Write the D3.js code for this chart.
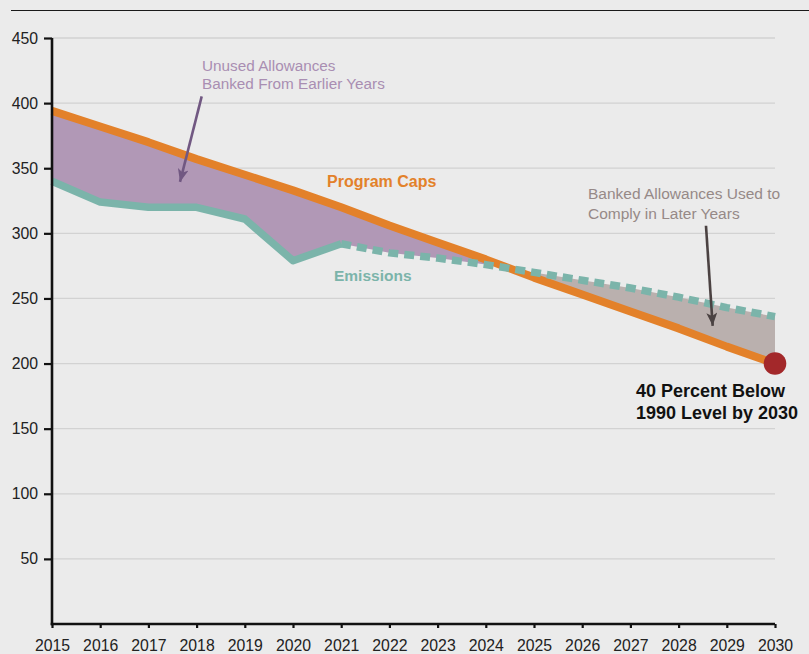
<!DOCTYPE html>
<html><head><meta charset="utf-8">
<script src="https://cdn.jsdelivr.net/npm/d3@7"></script>
<style>
html,body{margin:0;padding:0;background:#ebebeb;}
svg{display:block;}
text{font-family:"Liberation Sans",Arial,sans-serif;}
</style></head>
<body>
<svg id="chart" width="809" height="654"></svg>
<script>
const years = [2015,2016,2017,2018,2019,2020,2021,2022,2023,2024,2025,2026,2027,2028,2029,2030];
const programCaps = [394,382,370,357,345,333,320,306,293,280,266,253,240,227,213,200];
const emissions = [340,324,320,320,311,279,292,285,281,276,270,264,258,251,243,236];
const projectedFrom = 2021; // emissions dashed from here on
const yTicks = [50,100,150,200,250,300,350,400,450];
const xTicks = years;

const W=809,H=654;
const x = d3.scaleLinear().domain([2015,2030]).range([52,775]);
const y = d3.scaleLinear().domain([0,450]).range([624,38]);

const svg = d3.select("#chart");
svg.append("rect").attr("width",W).attr("height",H).attr("fill","#ebebeb");

// top rule
svg.append("line").attr("x1",11).attr("x2",W).attr("y1",10.5).attr("y2",10.5)
  .attr("stroke","#1a1a1a").attr("stroke-width",1.2);

// grid
svg.append("g").selectAll("line").data(yTicks).join("line")
  .attr("x1",x(2015)).attr("x2",x(2030))
  .attr("y1",d=>y(d)).attr("y2",d=>y(d))
  .attr("stroke","#d2d2d2").attr("stroke-width",1.3);

const data = years.map((yr,i)=>({yr,cap:programCaps[i],em:emissions[i]}));
const defs = svg.append("defs");

defs.append("clipPath").attr("id","aboveEm").append("path")
  .attr("d", d3.area().x(d=>x(d.yr)).y0(d=>y(d.em)).y1(0)(data));
defs.append("clipPath").attr("id","aboveCap").append("path")
  .attr("d", d3.area().x(d=>x(d.yr)).y0(d=>y(d.cap)).y1(0)(data));

svg.append("path")
  .attr("d", d3.area().x(d=>x(d.yr)).y0(y(0)).y1(d=>y(d.cap))(data))
  .attr("fill","#b198b6").attr("clip-path","url(#aboveEm)");
svg.append("path")
  .attr("d", d3.area().x(d=>x(d.yr)).y0(y(0)).y1(d=>y(d.em))(data))
  .attr("fill","#bab0ae").attr("clip-path","url(#aboveCap)");

const line = (key)=>d3.line().x(d=>x(d.yr)).y(d=>y(d[key]));

svg.append("path").attr("d", line("em")(data.filter(d=>d.yr<=projectedFrom)))
  .attr("fill","none").attr("stroke","#7bb4aa").attr("stroke-width",7.5).attr("stroke-linejoin","round");
svg.append("path").attr("d", line("cap")(data))
  .attr("fill","none").attr("stroke","#e3812a").attr("stroke-width",8).attr("stroke-linejoin","round");
svg.append("path").attr("d", line("em")(data.filter(d=>d.yr>=projectedFrom)))
  .attr("fill","none").attr("stroke","#7bb4aa").attr("stroke-width",7.5)
  .attr("stroke-dasharray","10,6");

// axes
const yAxis = svg.append("g").attr("transform",`translate(${x(2015)},0)`)
  .call(d3.axisLeft(y).tickValues(yTicks).tickSize(8).tickPadding(6));
const xAxis = svg.append("g").attr("transform",`translate(0,${y(0)})`)
  .call(d3.axisBottom(x).tickValues(xTicks).tickFormat(d3.format("d")).tickSize(4).tickPadding(12));
[yAxis,xAxis].forEach(g=>{
  g.select(".domain").remove();
  g.selectAll(".tick line").attr("stroke","#111").attr("stroke-width",2.2);
  g.selectAll(".tick text").attr("fill","#222").attr("font-size",15.8)
   .attr("font-family","'Liberation Sans',Arial,sans-serif");
});
xAxis.selectAll(".tick text").attr("dy","0.68em");
svg.append("line").attr("x1",x(2015)).attr("x2",x(2015)).attr("y1",y(450)).attr("y2",y(0)+1.2)
  .attr("stroke","#111").attr("stroke-width",2.6);
svg.append("line").attr("x1",x(2015)-1.3).attr("x2",x(2030)).attr("y1",y(0)).attr("y2",y(0))
  .attr("stroke","#111").attr("stroke-width",2.6);

svg.append("circle").attr("cx",x(2030)).attr("cy",y(programCaps[programCaps.length-1])).attr("r",11.3)
  .attr("fill","#a3282a");

function arrow(id,color,x1,y1,x2,y2){
  defs.append("marker").attr("id",id).attr("viewBox","0 0 12 10")
    .attr("refX",12).attr("refY",5).attr("markerWidth",13).attr("markerHeight",11)
    .attr("markerUnits","userSpaceOnUse").attr("orient","auto")
    .append("path").attr("d","M0,0 L12,5 L0,10 L3,5 Z").attr("fill",color);
  svg.append("line").attr("x1",x(x1)).attr("y1",y(y1)).attr("x2",x(x2)).attr("y2",y(y2))
    .attr("stroke",color).attr("stroke-width",2.6).attr("marker-end",`url(#${id})`);
}
arrow("a1","#715882",2018.106,405.2,2017.656,339.5);
arrow("a2","#4b4242",2028.568,305.8,2028.707,229.0);

function label(lines,xp,yp,lh,color,size,weight){
  const t = svg.append("text").attr("x",xp).attr("y",yp).attr("fill",color)
    .attr("font-size",size).attr("font-weight",weight);
  lines.forEach((l,i)=>t.append("tspan").attr("x",xp).attr("dy",i?lh:0).text(l));
}
label(["Unused Allowances","Banked From Earlier Years"],202,70.7,18.6,"#a98eb2",15.3,"normal");
label(["Program Caps"],327,186.7,0,"#e3812a",16,"bold");
label(["Emissions"],334,280.7,0,"#7bb4aa",15.5,"bold");
label(["Banked Allowances Used to","Comply in Later Years"],588,199.3,20,"#968987",15.5,"normal");
label(["40 Percent Below","1990 Level by 2030"],636,396.7,22.6,"#111",18,"bold");
</script>
</body></html>
